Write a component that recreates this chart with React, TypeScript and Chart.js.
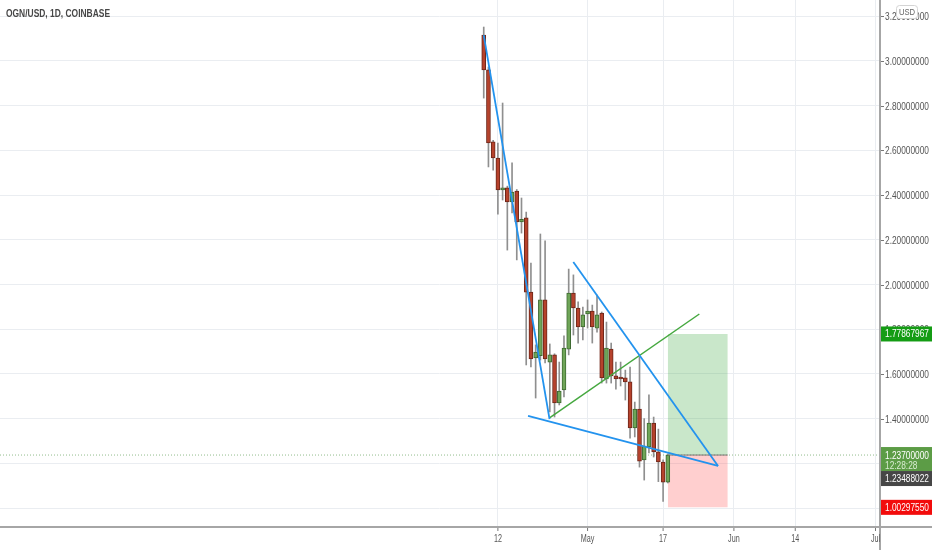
import React, { useEffect, useRef } from "react";
import { Chart, registerables } from "chart.js";

Chart.register(...registerables);

// ---------- data ----------
const TITLE = "OGN/USD, 1D, COINBASE";
const CURRENCY = "USD";

const DATES = [
  "2021-04-09", "2021-04-10", "2021-04-11", "2021-04-12", "2021-04-13",
  "2021-04-14", "2021-04-15", "2021-04-16", "2021-04-17", "2021-04-18",
  "2021-04-19", "2021-04-20", "2021-04-21", "2021-04-22", "2021-04-23",
  "2021-04-24", "2021-04-25", "2021-04-26", "2021-04-27", "2021-04-28",
  "2021-04-29", "2021-04-30", "2021-05-01", "2021-05-02", "2021-05-03",
  "2021-05-04", "2021-05-05", "2021-05-06", "2021-05-07", "2021-05-08",
  "2021-05-09", "2021-05-10", "2021-05-11", "2021-05-12", "2021-05-13",
  "2021-05-14", "2021-05-15", "2021-05-16", "2021-05-17", "2021-05-18",
];
const OPEN = [
  3.116, 2.960, 2.638, 2.566, 2.423, 2.432, 2.369, 2.418, 2.280, 2.298,
  1.966, 1.671, 1.682, 1.931, 1.653, 1.685, 1.470, 1.528, 1.711, 1.962,
  1.895, 1.810, 1.868, 1.881, 1.805, 1.872, 1.577, 1.711, 1.591, 1.582,
  1.582, 1.564, 1.358, 1.443, 1.215, 1.273, 1.380, 1.251, 1.206, 1.116,
];
const HIGH = [
  3.152, 2.973, 2.645, 2.633, 2.812, 2.440, 2.544, 2.425, 2.387, 2.324,
  2.096, 1.730, 2.226, 2.195, 1.734, 1.690, 1.653, 1.770, 2.069, 2.043,
  1.922, 1.899, 1.931, 1.908, 1.953, 1.877, 1.832, 1.738, 1.653, 1.653,
  1.617, 1.631, 1.474, 1.676, 1.400, 1.506, 1.407, 1.353, 1.215, 1.242,
];
const LOW = [
  2.834, 2.526, 2.512, 2.315, 2.378, 2.154, 2.320, 2.110, 2.230, 1.640,
  1.631, 1.492, 1.662, 1.649, 1.430, 1.407, 1.461, 1.497, 1.685, 1.774,
  1.738, 1.752, 1.805, 1.738, 1.787, 1.559, 1.559, 1.559, 1.532, 1.546,
  1.483, 1.313, 1.318, 1.183, 1.125, 1.246, 1.228, 1.118, 1.030, 1.112,
];
const CLOSE = [
  2.960, 2.633, 2.566, 2.423, 2.432, 2.369, 2.414, 2.280, 2.292, 1.966,
  1.667, 1.698, 1.931, 1.667, 1.685, 1.470, 1.523, 1.716, 1.962, 1.895,
  1.810, 1.864, 1.881, 1.810, 1.864, 1.582, 1.716, 1.591, 1.577, 1.577,
  1.564, 1.358, 1.443, 1.210, 1.277, 1.380, 1.251, 1.206, 1.116, 1.237,
];

const X_TICK_DATES = ["2021-04-12", "2021-05-01", "2021-05-17", "2021-06-01", "2021-06-14", "2021-07-01"];
const X_TICK_LABELS = ["12", "May", "17", "Jun", "14", "Jul"];
const Y_TICKS = [1.0, 1.2, 1.4, 1.6, 1.8, 2.0, 2.2, 2.4, 2.6, 2.8, 3.0, 3.2];

// drawings (x in days after first candle, y in USD)
const DOWN_TREND_X = [0, 13.94];
const DOWN_TREND_Y = [3.116, 1.398];
const LOWER_LINE_X = [9.39, 49.64];
const LOWER_LINE_Y = [1.412, 1.188];
const UPPER_LINE_X = [18.98, 49.64];
const UPPER_LINE_Y = [2.101, 1.188];
const GREEN_LINE_X = [13.94, 45.68];
const GREEN_LINE_Y = [1.403, 1.868];

// long position tool
const POS_X = [39, 51.7];
const POS_ENTRY = 1.237;
const POS_TARGET = 1.77867967;
const POS_STOP = 1.0029755;

const LAST_PRICE = 1.237;
const COUNTDOWN = "12:28:28";
const SECOND_PRICE = 1.23488022;

// view range
const X_VIEW = [-102.48, 83.74];
const Y_VIEW = [0.9195, 3.2729];

// ---------- helpers ----------
const BASE = Date.parse(DATES[0] + "T00:00:00Z");
const dayOf = (d: string) => (Date.parse(d + "T00:00:00Z") - BASE) / 86400000;

function narrowText(ctx: CanvasRenderingContext2D, text: string, x: number, y: number, sx: number, align: CanvasTextAlign) {
  ctx.save();
  ctx.translate(x, y);
  ctx.scale(sx, 1);
  ctx.textAlign = align;
  ctx.fillText(text, 0, 0);
  ctx.restore();
}

const overlayPlugin = {
  id: "overlay",
  afterDraw(chart: any) {
    const { ctx, chartArea: a, scales } = chart;
    const ys = scales.y;
    const xs = scales.x;
    const W = chart.width;
    const H = chart.height;
    ctx.save();

    // axis lines
    ctx.strokeStyle = "#a6a6a6";
    ctx.lineWidth = 2;
    ctx.beginPath();
    ctx.moveTo(0, a.bottom + 1);
    ctx.lineTo(W, a.bottom + 1);
    ctx.moveTo(a.right + 1, 0);
    ctx.lineTo(a.right + 1, H);
    ctx.stroke();

    // y tick marks + labels
    ctx.font = "11px 'Liberation Sans', Arial, sans-serif";
    const sy = 44 / ctx.measureText("3.00000000").width;
    ctx.textBaseline = "middle";
    ctx.strokeStyle = "#777";
    ctx.lineWidth = 1;
    ctx.fillStyle = "#555";
    Y_TICKS.forEach((v) => {
      const y = Math.round(ys.getPixelForValue(v)) + 0.5;
      ctx.beginPath();
      ctx.moveTo(a.right + 2, y);
      ctx.lineTo(a.right + 5, y);
      ctx.stroke();
      narrowText(ctx, v.toFixed(8), a.right + 6, y, sy, "left");
    });

    // x labels
    ctx.font = "10px 'Liberation Sans', Arial, sans-serif";
    ctx.fillStyle = "#555";
    X_TICK_DATES.forEach((d, i) => {
      const x = xs.getPixelForValue(dayOf(d));
      ctx.beginPath();
      ctx.moveTo(x, a.bottom + 2);
      ctx.lineTo(x, a.bottom + 5);
      ctx.stroke();
      narrowText(ctx, X_TICK_LABELS[i], x, a.bottom + 13, 0.72, "center");
    });

    // price tags
    ctx.font = "11px 'Liberation Sans', Arial, sans-serif";
    const tagX = a.right + 2;
    const tagW = W - tagX;
    const drawTag = (yc: number, h: number, bg: string) => {
      ctx.fillStyle = bg;
      ctx.fillRect(tagX, yc - h / 2, tagW, h);
    };
    // target
    let yc = ys.getPixelForValue(POS_TARGET);
    drawTag(yc, 15, "#149c14");
    ctx.fillStyle = "#fff";
    narrowText(ctx, POS_TARGET.toFixed(8), a.right + 6, yc + 0.5, sy, "left");
    // last price with countdown
    const yl = ys.getPixelForValue(LAST_PRICE);
    ctx.fillStyle = "#5c9c46";
    ctx.fillRect(tagX, yl - 8, tagW, 24);
    ctx.fillStyle = "#fff";
    narrowText(ctx, LAST_PRICE.toFixed(8), a.right + 6, yl + 0.5, sy, "left");
    ctx.fillStyle = "#d9ecd2";
    narrowText(ctx, COUNTDOWN, a.right + 6, yl + 10.5, sy, "left");
    // second price, pushed below the last-price tag
    yc = Math.max(ys.getPixelForValue(SECOND_PRICE), yl + 16 + 7.5);
    drawTag(yc, 15, "#464646");
    ctx.fillStyle = "#fff";
    narrowText(ctx, SECOND_PRICE.toFixed(8), a.right + 6, yc + 0.5, sy, "left");
    // stop
    yc = ys.getPixelForValue(POS_STOP);
    drawTag(yc, 15, "#f20c0c");
    ctx.fillStyle = "#fff";
    narrowText(ctx, POS_STOP.toFixed(8), a.right + 6, yc + 0.5, sy, "left");

    // currency badge
    ctx.fillStyle = "#fff";
    ctx.strokeStyle = "#d4d4d4";
    ctx.beginPath();
    (ctx as any).roundRect(896.5, 5.5, 21, 13, 3);
    ctx.fill();
    ctx.stroke();
    ctx.fillStyle = "#666";
    ctx.font = "9px 'Liberation Sans', Arial, sans-serif";
    narrowText(ctx, CURRENCY, 907, 12.5, 0.85, "center");

    // title
    ctx.font = "bold 11px 'Liberation Sans', Arial, sans-serif";
    const tw = ctx.measureText(TITLE).width;
    ctx.fillStyle = "#474747";
    narrowText(ctx, TITLE, 6, 13.5, 104 / tw, "left");

    ctx.restore();
  },
};

export default function App() {
  const ref = useRef<HTMLCanvasElement | null>(null);

  useEffect(() => {
    if (!ref.current) return;
    const xs = DATES.map(dayOf);
    const up = CLOSE.map((c, i) => c >= OPEN[i]);
    const hline = (x0: number, x1: number, y: number) => [
      { x: x0, y },
      { x: x1, y },
    ];
    const seg = (X: number[], Y: number[]) => X.map((x, i) => ({ x, y: Y[i] }));

    const lineBase = { type: "line" as const, pointRadius: 0, tension: 0, fill: false };

    const chart = new Chart(ref.current, {
      type: "bar",
      data: {
        datasets: [
          {
            ...lineBase,
            data: hline(X_VIEW[0], X_VIEW[1], LAST_PRICE),
            borderColor: "rgba(110,165,100,0.75)",
            borderWidth: 1,
            borderDash: [1, 2],
            order: 9,
          } as any,
          {
            ...lineBase,
            data: hline(POS_X[0], POS_X[1], POS_TARGET),
            fill: { value: POS_ENTRY },
            backgroundColor: "rgba(76,175,80,0.3)",
            borderWidth: 0,
            order: 8,
          } as any,
          {
            ...lineBase,
            data: hline(POS_X[0], POS_X[1], POS_STOP),
            fill: { value: POS_ENTRY },
            backgroundColor: "rgba(255,82,82,0.28)",
            borderWidth: 0,
            order: 8,
          } as any,
          {
            type: "bar",
            data: xs.map((x, i) => ({ x, y: [LOW[i], HIGH[i]] })),
            backgroundColor: "#8f8f8f",
            barThickness: 1,
            grouped: false,
            order: 5,
          } as any,
          {
            type: "bar",
            data: xs.map((x, i) => ({ x, y: [OPEN[i], CLOSE[i]] })),
            backgroundColor: up.map((u) => (u ? "#6fa558" : "#b6422c")),
            borderColor: up.map((u) => (u ? "#3e6a31" : "#6d2619")),
            borderWidth: 1,
            borderSkipped: false,
            barThickness: 4,
            minBarLength: 2,
            grouped: false,
            order: 4,
          } as any,
          {
            ...lineBase,
            data: hline(POS_X[0], POS_X[1], POS_ENTRY),
            borderColor: "#7a7a7a",
            borderWidth: 1,
            order: 3,
          } as any,
          {
            ...lineBase,
            data: seg(GREEN_LINE_X, GREEN_LINE_Y),
            borderColor: "#45a83f",
            borderWidth: 1.5,
            order: 1,
          } as any,
          {
            ...lineBase,
            data: seg(DOWN_TREND_X, DOWN_TREND_Y),
            borderColor: "#2393ee",
            borderWidth: 1.8,
            order: 0,
          } as any,
          {
            ...lineBase,
            data: seg(LOWER_LINE_X, LOWER_LINE_Y),
            borderColor: "#2393ee",
            borderWidth: 1.8,
            order: 0,
          } as any,
          {
            ...lineBase,
            data: seg(UPPER_LINE_X, UPPER_LINE_Y),
            borderColor: "#2393ee",
            borderWidth: 1.8,
            order: 0,
          } as any,
        ],
      },
      options: {
        animation: false,
        responsive: true,
        maintainAspectRatio: false,
        events: [],
        layout: { padding: 0 },
        plugins: { legend: { display: false }, tooltip: { enabled: false } },
        scales: {
          x: {
            type: "linear",
            min: X_VIEW[0],
            max: X_VIEW[1],
            offset: false,
            grid: { offset: false, color: "#eaedf1", drawTicks: false },
            border: { display: false },
            ticks: { display: false },
            afterBuildTicks: (s: any) => {
              s.ticks = X_TICK_DATES.map((d) => ({ value: dayOf(d) }));
            },
            afterFit: (s: any) => {
              s.height = 24;
            },
          },
          y: {
            type: "linear",
            position: "right",
            min: Y_VIEW[0],
            max: Y_VIEW[1],
            grid: { color: "#eaedf1", drawTicks: false },
            border: { display: false },
            ticks: { display: false },
            afterBuildTicks: (s: any) => {
              s.ticks = Y_TICKS.map((v) => ({ value: v }));
            },
            afterFit: (s: any) => {
              s.width = 53;
            },
          },
        },
      } as any,
      plugins: [overlayPlugin],
    });
    return () => chart.destroy();
  }, []);

  return (
    <div style={{ position: "absolute", left: 0, top: 0, width: 932, height: 550, background: "#fff" }}>
      <canvas ref={ref} />
    </div>
  );
}
